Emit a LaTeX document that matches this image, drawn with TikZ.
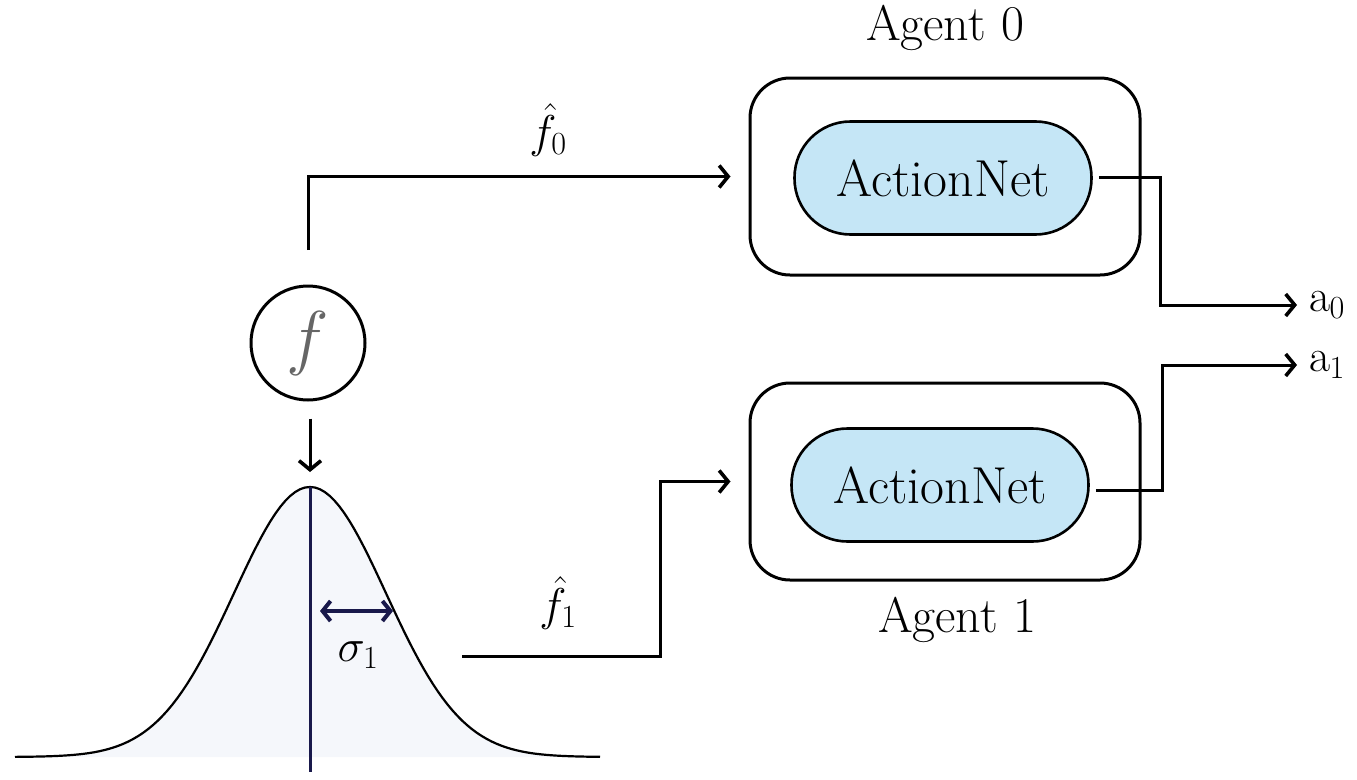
\RequirePackage{fix-cm}
\documentclass[tikz,border=0pt]{standalone}
\usetikzlibrary{arrows.meta,calc}
\definecolor{netblue}{RGB}{197,230,246}
\definecolor{navy}{RGB}{25,25,75}
\definecolor{gaussfill}{RGB}{245,247,251}
\begin{document}
\begin{tikzpicture}[x=1pt,y=-1pt,
  conn/.style={line width=3pt,-{Straight Barb[length=9pt,width=22pt,line width=3.6pt]}},
  agentbox/.style={draw,line width=3pt,rounded corners=40pt,minimum width=390pt,minimum height=197pt},
  netpill/.style={draw,line width=2.6pt,fill=netblue,rounded corners=56pt,minimum width=297pt,minimum height=113pt,font=\fontsize{52}{60}\selectfont},
  lbl/.style={font=\fontsize{50}{60}\selectfont},
  mlbl/.style={font=\fontsize{46}{56}\selectfont}]
\useasboundingbox (0,0) rectangle (1357,779);
% Gaussian
\fill[gaussfill] plot[domain=15:600,samples=120] (\x,{757-270*exp(-0.5*((\x-310)/76)^2)}) -- (600,757) -- (15,757) -- cycle;
\draw[line width=2.2pt] plot[domain=15:600,samples=120] (\x,{757-270*exp(-0.5*((\x-310)/76)^2)});
\coordinate (peak) at (310,487);
\coordinate (gbot) at (310,772);
\draw[navy,line width=3pt] (peak) -- (gbot);
\coordinate (sl) at (320,611);
\coordinate (sr) at (393,611);
\draw[navy,line width=4pt,{Straight Barb[length=8pt,width=20pt]}-{Straight Barb[length=8pt,width=20pt]}] (sl) -- (sr);
\node[mlbl] (sigma) at (358,655) {$\sigma_1$};
% f circle
\node[draw,circle,line width=3pt,minimum size=114pt,inner sep=0pt,text=black!60,font=\fontsize{72}{80}\selectfont] (f) at (308,343) {$f$};
\draw[conn] ([yshift=-17pt]f.south -| peak) -- ([yshift=15pt]peak);
% agents
\node[agentbox] (agent0) at (945,176.5) {};
\node[netpill] (net0) at (943,178) {ActionNet};
\node[lbl] (ag0) at (945,28) {Agent 0};
\node[agentbox] (agent1) at (945,481.5) {};
\node[netpill] (net1) at (940,485) {ActionNet};
\node[lbl] (ag1) at (957,620) {Agent 1};
% inputs
\coordinate (s0) at (308,250);
\draw[conn] (s0) |- ([xshift=-18pt]agent0.west);
\node[mlbl] (fh0) at (548,130) {$\hat{f}_0$};
\coordinate (s1) at (462,656);
\coordinate (k1) at (660,656);
\draw[conn] (s1) -- (k1) |- ([xshift=-18pt]agent1.west);
\node[mlbl] (fh1) at (558,603) {$\hat{f}_1$};
% outputs
\node[mlbl,anchor=west] (a0) at (1305,305) {$\mathrm{a}_0$};
\node[mlbl,anchor=west] (a1) at (1305,365) {$\mathrm{a}_1$};
\coordinate (k0) at (1160,177);
\draw[conn] ([xshift=6pt]net0.east |- k0) -- (k0) |- ([xshift=-8pt]a0.west);
\coordinate (k2) at (1162,490);
\draw[conn] ([xshift=6pt]net1.east |- k2) -- (k2) |- ([xshift=-8pt]a1.west);
\end{tikzpicture}
\end{document}
